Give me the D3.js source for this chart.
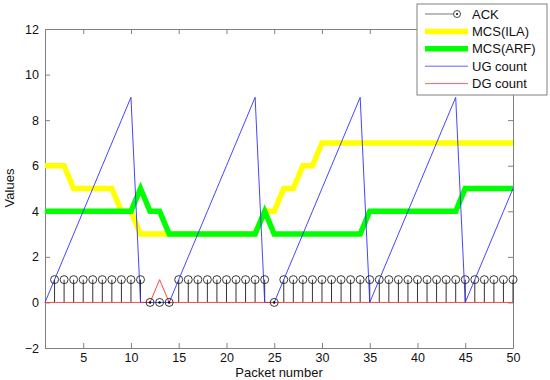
<!DOCTYPE html>
<html>
<head>
<meta charset="utf-8">
<script src="https://cdn.jsdelivr.net/npm/d3@7"></script>
<style>
body { margin: 0; background: #fff; }
svg { font-family: "Liberation Sans", Arial, sans-serif; }
.axis path, .axis line { stroke: #808080; }
.axis text { fill: #111; font-size: 12.5px; }
</style>
</head>
<body>
<div id="chart"></div>
<script>
// packet numbers on the x axis
var packets = [1,2,3,4,5,6,7,8,9,10,11,12,13,14,15,16,17,18,19,20,21,22,23,24,25,
               26,27,28,29,30,31,32,33,34,35,36,37,38,39,40,41,42,43,44,45,46,47,48,49,50];
// ACK stems start at packet 2
var ackPackets = packets.slice(1);
var ack = [1,1,1,1,1,1,1,1,1,1, 0,0,0, 1,1,1,1,1,1,1,1,1,1, 0,
           1,1,1,1,1,1,1,1,1,1,1,1,1,1,1,1,1,1,1,1,1,1,1,1,1];
var mcsILA = [6,6,6,5,5,5,5,5,4,4, 3,3,3,3,3,3,3,3,3,3, 3,3,3,4,4,5,5,6,6,7,
              7,7,7,7,7,7,7,7,7,7, 7,7,7,7,7,7,7,7,7,7];
var mcsARF = [4,4,4,4,4,4,4,4,4,4, 5,4,4,3,3,3,3,3,3,3, 3,3,3,4,3,3,3,3,3,3,
              3,3,3,3,4,4,4,4,4,4, 4,4,4,4,5,5,5,5,5,5];
var ugCount = [0,1,2,3,4,5,6,7,8,9, 0,0,0,0,1,2,3,4,5,6, 7,8,9,0,0,1,2,3,4,5,
               6,7,8,9,0,1,2,3,4,5, 6,7,8,9,0,1,2,3,4,5];
var dgCount = [0,0,0,0,0,0,0,0,0,0, 0,0,1,0,0,0,0,0,0,0, 0,0,0,0,0,0,0,0,0,0,
               0,0,0,0,0,0,0,0,0,0, 0,0,0,0,0,0,0,0,0,0];
var xTicks = [5,10,15,20,25,30,35,40,45,50];
var yTicks = [-2,0,2,4,6,8,10,12];

var svg = d3.select("#chart").append("svg")
    .attr("width", 550)
    .attr("height", 380);

var x = d3.scaleLinear().domain([1, 50]).range([45, 513]);
var y = d3.scaleLinear().domain([-2, 12]).range([348, 29]);

// white plot box
svg.append("rect")
    .attr("x", 45).attr("y", 29)
    .attr("width", 468).attr("height", 319)
    .attr("fill", "#fff");

// axes, ticks pointing in
svg.append("g").attr("class", "axis")
    .attr("transform", "translate(0,348)")
    .call(d3.axisBottom(x).tickValues(xTicks).tickSizeInner(-5).tickSizeOuter(0).tickPadding(5));
svg.append("g").attr("class", "axis")
    .attr("transform", "translate(45,0)")
    .call(d3.axisLeft(y).tickValues(yTicks).tickSizeInner(-5).tickSizeOuter(0).tickPadding(6));
svg.append("g").attr("class", "axis")
    .attr("transform", "translate(0,29)")
    .call(d3.axisTop(x).tickValues(xTicks).tickSizeInner(-5).tickSizeOuter(0).tickFormat(""));
svg.append("g").attr("class", "axis")
    .attr("transform", "translate(513,0)")
    .call(d3.axisRight(y).tickValues(yTicks).tickSizeInner(-5).tickSizeOuter(0).tickFormat(""));

// ACK stems
var ackData = ackPackets.map(function(p, i) {return {p: p, v: ack[i]}});
svg.append("g").selectAll("line")
    .data(ackData)
    .enter()
    .append("line")
    .attr("x1", function(d) {return x(d.p)})
    .attr("x2", function(d) {return x(d.p)})
    .attr("y1", y(0))
    .attr("y2", function(d) {return y(d.v)})
    .attr("stroke", "#333")
    .attr("stroke-width", 1);

var line = d3.line()
    .x(function(d, i) {return x(packets[i])})
    .y(function(d) {return y(d)});

svg.append("path").datum(mcsILA)
    .attr("d", line).attr("fill", "none")
    .attr("stroke", "#ffff00").attr("stroke-width", 5.5)
    .attr("stroke-linejoin", "miter");
svg.append("path").datum(mcsARF)
    .attr("d", line).attr("fill", "none")
    .attr("stroke", "#00ff00").attr("stroke-width", 5.5)
    .attr("stroke-linejoin", "miter");
svg.append("path").datum(ugCount)
    .attr("d", line).attr("fill", "none")
    .attr("stroke", "#3030ff").attr("stroke-width", 0.9);
svg.append("path").datum(dgCount)
    .attr("d", line).attr("fill", "none")
    .attr("stroke", "#ff3030").attr("stroke-width", 0.9);

// ACK markers
svg.append("g").selectAll("circle")
    .data(ackData)
    .enter()
    .append("circle")
    .attr("cx", function(d) {return x(d.p)})
    .attr("cy", function(d) {return y(d.v)})
    .attr("r", 4)
    .attr("fill", "none")
    .attr("stroke", "#222")
    .attr("stroke-width", 0.9);
svg.append("g").selectAll("circle")
    .data(ackData.filter(function(d) {return d.v === 0}))
    .enter()
    .append("circle")
    .attr("cx", function(d) {return x(d.p)})
    .attr("cy", function(d) {return y(d.v)})
    .attr("r", 1.2)
    .attr("fill", "#000");

// legend
var legend = svg.append("g");
legend.append("rect")
    .attr("x", 417).attr("y", 4)
    .attr("width", 130).attr("height", 91)
    .attr("fill", "#fff").attr("stroke", "#808080");

var legendItems = [
    {name: "ACK", color: "#777", width: 1},
    {name: "MCS(ILA)", color: "#ffff00", width: 5.5},
    {name: "MCS(ARF)", color: "#00ff00", width: 5.5},
    {name: "UG count", color: "#5050ff", width: 0.9},
    {name: "DG count", color: "#ff5050", width: 0.9}
];
var rows = legend.selectAll("g.item")
    .data(legendItems)
    .enter()
    .append("g")
    .attr("class", "item")
    .attr("transform", function(d, i) {return "translate(0," + (14 + i * 17.4) + ")"});
rows.append("line")
    .attr("x1", 425)
    .attr("x2", function(d, i) {return i === 0 ? 453 : 468})
    .attr("y1", 0).attr("y2", 0)
    .attr("stroke", function(d) {return d.color})
    .attr("stroke-width", function(d) {return d.width});
rows.filter(function(d, i) {return i === 0}).append("circle")
    .attr("cx", 457).attr("cy", 0).attr("r", 3.5)
    .attr("fill", "none").attr("stroke", "#333").attr("stroke-width", 0.9);
rows.filter(function(d, i) {return i === 0}).append("circle")
    .attr("cx", 457).attr("cy", 0).attr("r", 1)
    .attr("fill", "#000");
rows.append("text")
    .attr("x", 472).attr("y", 4.5)
    .attr("font-size", "13px")
    .attr("fill", "#111")
    .text(function(d) {return d.name});

// axis titles
svg.append("text")
    .attr("x", 279).attr("y", 377)
    .attr("text-anchor", "middle")
    .attr("font-size", "13px")
    .attr("fill", "#111")
    .text("Packet number");
svg.append("text")
    .attr("transform", "translate(14,188) rotate(-90)")
    .attr("text-anchor", "middle")
    .attr("font-size", "13px")
    .attr("fill", "#111")
    .text("Values");
</script>
</body>
</html>
